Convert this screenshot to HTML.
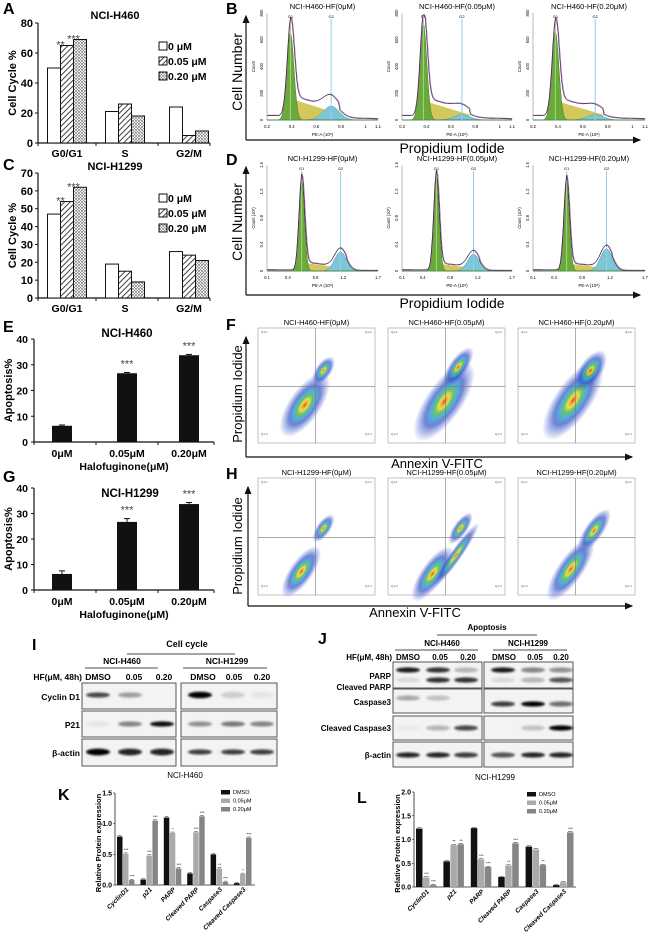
<!DOCTYPE html>
<html><head><meta charset="utf-8">
<style>
html,body{margin:0;padding:0;background:#fff;}
svg{display:block;font-family:"Liberation Sans",Arial,sans-serif;}
.b{font-weight:bold;}
</style></head>
<body>
<svg id="fig" width="648" height="936" viewBox="0 0 648 936" xmlns="http://www.w3.org/2000/svg">
<defs>
<pattern id="hatch" patternUnits="userSpaceOnUse" width="4" height="4" patternTransform="rotate(45)"><rect width="4" height="4" fill="#fff"/><line x1="0" y1="0" x2="0" y2="4" stroke="#111" stroke-width="1.6"/></pattern>
<pattern id="dots" patternUnits="userSpaceOnUse" width="3" height="3"><rect width="3" height="3" fill="#eee"/><circle cx="1" cy="1" r="0.7" fill="#333"/><circle cx="2.5" cy="2.5" r="0.5" fill="#666"/></pattern>
<radialGradient id="heat"><stop offset="0" stop-color="#d82010"/><stop offset="0.09" stop-color="#f0a020"/><stop offset="0.18" stop-color="#e0d830"/><stop offset="0.3" stop-color="#50b850"/><stop offset="0.45" stop-color="#30a0d8"/><stop offset="0.62" stop-color="#3048c0" stop-opacity="0.8"/><stop offset="0.85" stop-color="#4060d0" stop-opacity="0.35"/><stop offset="1" stop-color="#4060d0" stop-opacity="0"/></radialGradient>
<filter id="blur" x="-50%" y="-100%" width="200%" height="300%"><feGaussianBlur stdDeviation="1.1"/></filter>
<marker id="arr" markerWidth="8" markerHeight="8" refX="6" refY="3" orient="auto"><path d="M0,0 L7,3 L0,6 z" fill="#111"/></marker>
</defs>

<text x="3" y="14" class="b" font-size="16">A</text>
<text x="3" y="170" class="b" font-size="16">C</text>
<text x="3" y="332" class="b" font-size="16">E</text>
<text x="3" y="482" class="b" font-size="16">G</text>
<text x="226" y="14" class="b" font-size="16">B</text>
<text x="226" y="165" class="b" font-size="16">D</text>
<text x="226" y="330" class="b" font-size="16">F</text>
<text x="226" y="479" class="b" font-size="16">H</text>
<text x="32" y="650" class="b" font-size="16">I</text>
<text x="318" y="644" class="b" font-size="16">J</text>
<text x="58" y="800" class="b" font-size="16">K</text>
<text x="357" y="803" class="b" font-size="16">L</text>

<line x1="246" y1="140" x2="246" y2="16" stroke="#111" stroke-width="1.2" marker-end="url(#arr)"/>
<line x1="246" y1="140" x2="640" y2="140" stroke="#111" stroke-width="1.2" marker-end="url(#arr)"/>
<text transform="translate(242,72) rotate(-90)" text-anchor="middle" font-size="14">Cell Number</text>
<text x="452" y="153" text-anchor="middle" font-size="14">Propidium Iodide</text>
<line x1="246" y1="295" x2="246" y2="167" stroke="#111" stroke-width="1.2" marker-end="url(#arr)"/>
<line x1="246" y1="295" x2="640" y2="295" stroke="#111" stroke-width="1.2" marker-end="url(#arr)"/>
<text transform="translate(242,222) rotate(-90)" text-anchor="middle" font-size="14">Cell Number</text>
<text x="452" y="308" text-anchor="middle" font-size="14">Propidium Iodide</text>

<line x1="246" y1="457" x2="246" y2="337" stroke="#111" stroke-width="1.2" marker-end="url(#arr)"/>
<line x1="246" y1="457" x2="632" y2="457" stroke="#111" stroke-width="1.2" marker-end="url(#arr)"/>
<text transform="translate(242,394) rotate(-90)" text-anchor="middle" font-size="13">Propidium Iodide</text>
<text x="437" y="468" text-anchor="middle" font-size="13">Annexin V-FITC</text>
<line x1="248" y1="606" x2="248" y2="487" stroke="#111" stroke-width="1.2" marker-end="url(#arr)"/>
<line x1="248" y1="606" x2="632" y2="606" stroke="#111" stroke-width="1.2" marker-end="url(#arr)"/>
<text transform="translate(242,546) rotate(-90)" text-anchor="middle" font-size="13">Propidium Iodide</text>
<text x="415" y="617" text-anchor="middle" font-size="13">Annexin V-FITC</text>

<text x="187" y="647" text-anchor="middle" class="b" font-size="9">Cell cycle</text>
<line x1="127" y1="654" x2="235" y2="654" stroke="#111" stroke-width="0.8"/>
<text x="122" y="664" text-anchor="middle" class="b" font-size="8.5">NCI-H460</text>
<line x1="85" y1="668" x2="158" y2="668" stroke="#111" stroke-width="0.8"/>
<text x="227" y="664" text-anchor="middle" class="b" font-size="8.5">NCI-H1299</text>
<line x1="183" y1="668" x2="267" y2="668" stroke="#111" stroke-width="0.8"/>
<g class="b" font-size="8.5">
<text x="82" y="680" text-anchor="end">HF(μM, 48h)</text>
<text x="98" y="680" text-anchor="middle">DMSO</text><text x="134" y="680" text-anchor="middle">0.05</text><text x="164" y="680" text-anchor="middle">0.20</text>
<text x="203" y="680" text-anchor="middle">DMSO</text><text x="234" y="680" text-anchor="middle">0.05</text><text x="262" y="680" text-anchor="middle">0.20</text>
<text x="80" y="700" text-anchor="end">Cyclin D1</text>
<text x="80" y="728" text-anchor="end">P21</text>
<text x="80" y="756" text-anchor="end">β-actin</text>
</g>
<text x="185" y="778" text-anchor="middle" font-size="8">NCI-H460</text>

<text x="487" y="630" text-anchor="middle" class="b" font-size="8">Apoptosis</text>
<line x1="437" y1="635" x2="537" y2="635" stroke="#111" stroke-width="0.8"/>
<text x="442" y="646" text-anchor="middle" class="b" font-size="8">NCI-H460</text>
<line x1="395" y1="650" x2="478" y2="650" stroke="#111" stroke-width="0.8"/>
<text x="528" y="646" text-anchor="middle" class="b" font-size="8">NCI-H1299</text>
<line x1="493" y1="650" x2="567" y2="650" stroke="#111" stroke-width="0.8"/>
<g class="b" font-size="8">
<text x="392" y="660" text-anchor="end">HF(μM, 48h)</text>
<text x="408" y="660" text-anchor="middle">DMSO</text><text x="440" y="660" text-anchor="middle">0.05</text><text x="468" y="660" text-anchor="middle">0.20</text>
<text x="504" y="660" text-anchor="middle">DMSO</text><text x="535" y="660" text-anchor="middle">0.05</text><text x="561" y="660" text-anchor="middle">0.20</text>
<text x="391" y="679" text-anchor="end">PARP</text>
<text x="391" y="690" text-anchor="end">Cleaved PARP</text>
<text x="391" y="705" text-anchor="end">Caspase3</text>
<text x="391" y="731" text-anchor="end">Cleaved Caspase3</text>
<text x="391" y="758" text-anchor="end">β-actin</text>
</g>
<text x="495" y="780" text-anchor="middle" font-size="8">NCI-H1299</text>

<g id="dyn"></g>
</svg>

<script>
const ccCategories = ["G0/G1", "S", "G2/M"];
const ccLegend = ["0 μM", "0.05 μM", "0.20 μM"];
const h460Cc0 = [50, 21, 24];
const h460Cc005 = [65, 26, 5];
const h460Cc020 = [69, 18, 8];
const h1299Cc0 = [47, 19, 26];
const h1299Cc005 = [54, 15, 24];
const h1299Cc020 = [62, 9, 21];
const aTicks = [0, 20, 40, 60, 80];
const cTicks = [0, 10, 20, 30, 40, 50, 60, 70];

const apoCategories = ["0μM", "0.05μM", "0.20μM"];
const h460Apo = [6.3, 26.7, 33.7];
const h460ApoErr = [0.3, 0.3, 0.3];
const h1299Apo = [6.3, 26.7, 33.7];
const h1299ApoErr = [1.2, 1.3, 0.6];
const apoTicks = [0, 10, 20, 30, 40];

const protCategories = ["CyclinD1", "p21", "PARP", "Cleaved PARP", "Caspase3", "Cleaved Caspase3"];
const protLegend = ["DMSO", "0.05μM", "0.20μM"];
const kDmso = [0.79, 0.09, 1.10, 0.19, 0.50, 0.03];
const k005 = [0.51, 0.48, 0.85, 0.86, 0.27, 0.18];
const k020 = [0.08, 1.05, 0.27, 1.12, 0.05, 0.77];
const kStars005 = ["***", "***", "*", "***", "**", "*"];
const kStars020 = ["***", "***", "***", "***", "***", "***"];
const kTicks = [0.0, 0.5, 1.0, 1.5];
const lDmso = [1.23, 0.54, 1.24, 0.21, 0.85, 0.04];
const l005 = [0.20, 0.88, 0.58, 0.45, 0.79, 0.10];
const l020 = [0.04, 0.90, 0.42, 0.92, 0.46, 1.15];
const lStars005 = ["***", "**", "***", "**", "", ""];
const lStars020 = ["***", "**", "***", "***", "**", "***"];
const lTicks = [0.0, 0.5, 1.0, 1.5, 2.0];

const NS = "http://www.w3.org/2000/svg";
const root = document.getElementById("dyn");
function mk(tag, attrs, parent) {
  const e = document.createElementNS(NS, tag);
  for (const k in attrs) e.setAttribute(k, attrs[k]);
  (parent || root).appendChild(e);
  return e;
}
function txt(x, y, s, size, extra, parent) {
  const t = mk("text", Object.assign({x: x, y: y, "font-size": size}, extra || {}), parent);
  t.textContent = s;
  return t;
}

function cellCycle(cfg) {
  const g = mk("g", {});
  
  
  const y = v => cfg.y0 - v / cfg.max * (cfg.y0 - cfg.yTop);
  const xc = i => cfg.centers[i];
  mk("line", {x1: cfg.x0, y1: cfg.yTop, x2: cfg.x0, y2: cfg.y0, stroke: "#111", "stroke-width": 1.2}, g);
  mk("line", {x1: cfg.x0, y1: cfg.y0, x2: 210, y2: cfg.y0, stroke: "#111", "stroke-width": 1.2}, g);
  cfg.ticks.forEach(t => {
    mk("line", {x1: cfg.x0 - 3, y1: y(t), x2: cfg.x0, y2: y(t), stroke: "#111"}, g);
    const tl = txt(cfg.x0 - 5, y(t) + 4, String(t), 11, {"text-anchor": "end", "font-weight": "bold"}, g);
    
  });
  [cfg.x0, 96, 158, 210].forEach(x => mk("line", {x1: x, y1: cfg.y0, x2: x, y2: cfg.y0 + 3, stroke: "#111"}, g));
  const ylab = txt(0, 0, "Cell Cycle %", 11, {"font-weight": "bold", "text-anchor": "middle", transform: "translate(16," + ((cfg.yTop + cfg.y0) / 2) + ") rotate(-90)"}, g);
  
  const ti = txt(115, cfg.titleY, cfg.title, 11, {"font-weight": "bold", "text-anchor": "middle"}, g);
  
  const fills = ["#fff", "url(#hatch)", "url(#dots)"];
  cfg.series.forEach((s, si) => {
    s.forEach((v, i) => {
      const r = mk("rect", {x: xc(i) - 19.5 + si * 13, y: y(v), width: 13, height: cfg.y0 - y(v), fill: fills[si], stroke: "#111", "stroke-width": 1}, g);
      
    });
  });
  cfg.stars.forEach((s, si) => {
    const v = cfg.series[si + 1][0];
    const st = txt(xc(0) - 6.5 + si * 13, y(v) + 3, s, 11, {"text-anchor": "middle", fill: "#444"}, g);
    
  });
  ccCategories.forEach((c, i) => {
    const l = txt(xc(i), cfg.y0 + 14, c, 10.5, {"text-anchor": "middle", "font-weight": "bold"}, g);
    
  });
  ccLegend.forEach((c, i) => {
    const ly = cfg.legY + i * 15;
    const sw = mk("rect", {x: 159, y: ly - 8, width: 8, height: 8, fill: fills[i], stroke: "#111"}, g);
    
    const lt = txt(168, ly, c, 10.5, {"font-weight": "bold"}, g);
    
  });
}
cellCycle({name: "cell-cycle-h460-chart", x0: 38, yTop: 23, y0: 143, max: 80, ticks: aTicks, centers: [67, 125, 189], title: "NCI-H460", titleY: 19, series: [h460Cc0, h460Cc005, h460Cc020], stars: ["**", "***"], legY: 50});
cellCycle({name: "cell-cycle-h1299-chart", x0: 38, yTop: 173, y0: 298, max: 70, ticks: cTicks, centers: [67, 125, 189], title: "NCI-H1299", titleY: 170, series: [h1299Cc0, h1299Cc005, h1299Cc020], stars: ["**", "***"], legY: 202});

function apoChart(cfg) {
  const g = mk("g", {});
  
  
  const y = v => cfg.y0 - v / 40 * (cfg.y0 - cfg.yTop);
  const centers = [62, 127, 189];
  mk("line", {x1: 34, y1: cfg.yTop, x2: 34, y2: cfg.y0, stroke: "#111", "stroke-width": 1.2}, g);
  mk("line", {x1: 34, y1: cfg.y0, x2: 214, y2: cfg.y0, stroke: "#111", "stroke-width": 1.2}, g);
  [34, 96, 158, 214].forEach(x => mk("line", {x1: x, y1: cfg.y0, x2: x, y2: cfg.y0 + 3, stroke: "#111"}, g));
  apoTicks.forEach(t => {
    mk("line", {x1: 31, y1: y(t), x2: 34, y2: y(t), stroke: "#111"}, g);
    const tl = txt(28, y(t) + 4, String(t), 10.5, {"text-anchor": "end", "font-weight": "bold"}, g);
    
  });
  const yl = txt(0, 0, "Apoptosis%", 11, {"font-weight": "bold", "text-anchor": "middle", transform: "translate(12," + ((cfg.yTop + cfg.y0) / 2) + ") rotate(-90)"}, g);
  
  const ti = txt(cfg.titleX, cfg.titleY, cfg.title, 11.5, {"font-weight": "bold", "text-anchor": "middle"}, g);
  
  cfg.vals.forEach((v, i) => {
    const b = mk("rect", {x: centers[i] - 10, y: y(v), width: 20, height: cfg.y0 - y(v), fill: "#111"}, g);
    
    const e = cfg.err[i];
    mk("line", {x1: centers[i], y1: y(v + e), x2: centers[i], y2: y(v), stroke: "#111"}, g);
    mk("line", {x1: centers[i] - 3, y1: y(v + e), x2: centers[i] + 3, y2: y(v + e), stroke: "#111"}, g);
    if (i > 0) {
      const s = txt(centers[i], y(v + e) - 5, "***", 11, {"text-anchor": "middle", fill: "#444"}, g);
      
    }
    const l = txt(centers[i], cfg.y0 + 15, apoCategories[i], 10.5, {"text-anchor": "middle", "font-weight": "bold"}, g);
    
  });
  const xt = txt(124, cfg.y0 + 28, "Halofuginone(μM)", 10.5, {"text-anchor": "middle", "font-weight": "bold"}, g);
  
}
apoChart({name: "apoptosis-h460-chart", yTop: 339, y0: 442, vals: h460Apo, err: h460ApoErr, title: "NCI-H460", titleX: 127, titleY: 337});
apoChart({name: "apoptosis-h1299-chart", yTop: 488, y0: 590, vals: h1299Apo, err: h1299ApoErr, title: "NCI-H1299", titleX: 130, titleY: 497});

function gauss(x, m, s) { return Math.exp(-0.5 * ((x - m) / s) * ((x - m) / s)); }
function histo(p) {
  const g = mk("g", {});
  
  
  const X = v => p.x0 + (v - p.xmin) / (p.xmax - p.xmin) * (p.x1 - p.x0);
  const H = p.yb - p.yt;
  const Y = f => p.yb - f * H;
  const tt = txt((p.x0 + p.x1) / 2, p.yt - 4, p.title, 7.5, {"text-anchor": "middle"}, g);
  
  mk("line", {x1: p.x0, y1: p.yt, x2: p.x0, y2: p.yb, stroke: "#888", "stroke-width": 0.6}, g);
  mk("line", {x1: p.x0, y1: p.yb, x2: p.x1, y2: p.yb, stroke: "#888", "stroke-width": 0.6}, g);
  const N = 90;
  let g1 = [], sp = [], g2 = [], tot = [];
  for (let i = 0; i <= N; i++) {
    const v = p.xmin + (p.xmax - p.xmin) * i / N;
    const a = p.h1 * gauss(v, p.m1, p.s1);
    const c = p.h2 * gauss(v, p.m2, p.s2);
    let s = 0;
    if (v > p.m1 - p.s1 && v < p.m2 + p.s2) s = p.hs * (1 - (v - p.m1) / (p.m2 - p.m1) * 0.6) * Math.min(1, (v - p.m1 + p.s1) / (2 * p.s1));
    s = Math.max(0, Math.min(s, p.hs));
    g1.push([X(v), Y(a)]); sp.push([X(v), Y(s)]); g2.push([X(v), Y(c)]);
    tot.push([X(v), Y(Math.min(0.98, a + s + c + p.base * gauss(v, p.xmin, (p.xmax - p.xmin) * 0.6)))]);
  }
  const area = pts => "M" + p.x0 + "," + p.yb + " L" + pts.map(q => q[0].toFixed(1) + "," + q[1].toFixed(1)).join(" L") + " L" + p.x1 + "," + p.yb + " Z";
  const line = pts => "M" + pts.map(q => q[0].toFixed(1) + "," + q[1].toFixed(1)).join(" L");
  const a1 = mk("path", {d: area(sp), fill: "#cfc24a", opacity: 0.9}, g); 
  const a2 = mk("path", {d: area(g2), fill: "#7dc6d6", stroke: "#4a8fc0", "stroke-width": 0.5}, g); 
  const a3 = mk("path", {d: area(g1), fill: "#6aaa3a", stroke: "#3d7a22", "stroke-width": 0.5}, g); 
  mk("line", {x1: X(p.m1), y1: p.yt + 6, x2: X(p.m1), y2: p.yb, stroke: "#9fd880", "stroke-width": 1}, g);
  mk("line", {x1: X(p.m2), y1: p.yt + 6, x2: X(p.m2), y2: p.yb, stroke: "#8fd0e8", "stroke-width": 1}, g);
  txt(X(p.m1), p.yt + 5, "G1", 4, {"text-anchor": "middle"}, g);
  txt(X(p.m2), p.yt + 5, "G2", 4, {"text-anchor": "middle"}, g);
  mk("path", {d: line(tot), fill: "none", stroke: "#b040c0", "stroke-width": 0.5, transform: "translate(0.6,-0.6)"}, g);
  const o = mk("path", {d: line(tot), fill: "none", stroke: "#222", "stroke-width": 0.6}, g);
  
  p.xt.forEach(v => txt(X(v), p.yb + 8, String(v), 4.2, {"text-anchor": "middle"}, g));
  txt((p.x0 + p.x1) / 2, p.yb + 16, "PE-A (10⁶)", 4.5, {"text-anchor": "middle"}, g);
  txt(0, 0, p.ylab, 4.2, {"text-anchor": "middle", transform: "translate(" + (p.x0 - 12) + "," + ((p.yt + p.yb) / 2) + ") rotate(-90)"}, g);
  p.yticks.forEach((t, i) => txt(0, 0, t, 4.2, {"text-anchor": "middle", transform: "translate(" + (p.x0 - 4) + "," + (p.yb - i / (p.yticks.length - 1) * H) + ") rotate(-90)"}, g));
}
const bx = [[267, 378], [402, 512], [533, 645]];
const bTitles = ["NCI-H460-HF(0μM)", "NCI-H460-HF(0.05μM)", "NCI-H460-HF(0.20μM)"];
const dTitles = ["NCI-H1299-HF(0μM)", "NCI-H1299-HF(0.05μM)", "NCI-H1299-HF(0.20μM)"];
const bShape = [[0.39, 0.82, 0.72, 0.13, 0.2], [0.375, 0.9, 0.69, 0.05, 0.18], [0.38, 0.83, 0.70, 0.05, 0.18]];
const dShape = [[0.6, 0.87, 1.16, 0.18, 0.08], [0.6, 0.91, 1.14, 0.16, 0.07], [0.58, 0.86, 1.15, 0.21, 0.07]];
for (let i = 0; i < 3; i++) {
  histo({name: "cell-cycle-histogram-h460-" + i, x0: bx[i][0], x1: bx[i][1], yt: 13, yb: 120, xmin: 0.2, xmax: 1.1, m1: bShape[i][0], s1: 0.028, h1: bShape[i][1], m2: bShape[i][2], s2: 0.065, h2: bShape[i][3], hs: bShape[i][4], base: 0.04, title: bTitles[i], xt: [0.2, 0.4, 0.6, 0.8, 1, 1.1], ylab: "Count", yticks: ["0", "200", "400", "600", "800"]});
  histo({name: "cell-cycle-histogram-h1299-" + i, x0: bx[i][0], x1: bx[i][1], yt: 165, yb: 271, xmin: 0.1, xmax: 1.7, m1: dShape[i][0], s1: 0.04, h1: dShape[i][1], m2: dShape[i][2], s2: 0.085, h2: dShape[i][3], hs: dShape[i][4], base: 0.01, title: dTitles[i], xt: [0.1, 0.4, 0.8, 1.2, 1.7], ylab: "Count (10³)", yticks: ["0", "0.4", "0.8", "1.2", "1.6"]});
}

function scatter(p) {
  const g = mk("g", {});
  
  
  const w = p.x1 - p.x0, h = p.yb - p.yt;
  const tt = txt((p.x0 + p.x1) / 2, p.yt - 3, p.title, 7.5, {"text-anchor": "middle"}, g);
  
  mk("rect", {x: p.x0, y: p.yt, width: w, height: h, fill: "#fff", stroke: "#999", "stroke-width": 0.6}, g);
  p.blobs.forEach(b => {
    const e = mk("ellipse", {cx: 0, cy: 0, rx: b[2] * w, ry: b[3] * h, fill: "url(#heat)", opacity: 0.85, transform: "translate(" + (p.x0 + b[0] * w) + "," + (p.yt + b[1] * h) + ") rotate(-55)"}, g);
    
  });
  mk("line", {x1: p.x0 + 0.49 * w, y1: p.yt, x2: p.x0 + 0.49 * w, y2: p.yb, stroke: "#777", "stroke-width": 0.6}, g);
  mk("line", {x1: p.x0, y1: p.yt + 0.51 * h, x2: p.x1, y2: p.yt + 0.51 * h, stroke: "#777", "stroke-width": 0.6}, g);
  ["Q1-1", "Q1-2", "Q1-3", "Q1-4"].forEach((q, i) => {
    const qx = p.x0 + (i % 2 ? w - 10 : 3), qy = p.yt + (i < 2 ? 5 : h - 8);
    txt(qx, qy, q, 3, {fill: "#555"}, g);
  });
}
const fx = [[258, 375], [388, 505], [518, 635]];
const fTitles = ["NCI-H460-HF(0μM)", "NCI-H460-HF(0.05μM)", "NCI-H460-HF(0.20μM)"];
const hTitles = ["NCI-H1299-HF(0μM)", "NCI-H1299-HF(0.05μM)", "NCI-H1299-HF(0.20μM)"];
const fBlobs = [
  [[0.40, 0.67, 0.32, 0.14], [0.56, 0.37, 0.14, 0.07]],
  [[0.48, 0.64, 0.40, 0.16], [0.60, 0.34, 0.2, 0.08]],
  [[0.47, 0.63, 0.40, 0.16], [0.62, 0.37, 0.2, 0.1]]
];
const hBlobs = [
  [[0.37, 0.80, 0.26, 0.1], [0.56, 0.43, 0.14, 0.06]],
  [[0.38, 0.82, 0.28, 0.1], [0.58, 0.66, 0.34, 0.05], [0.62, 0.43, 0.16, 0.06]],
  [[0.45, 0.78, 0.32, 0.11], [0.65, 0.45, 0.22, 0.08]]
];
for (let i = 0; i < 3; i++) {
  scatter({name: "annexin-scatter-h460-" + i, x0: fx[i][0], x1: fx[i][1], yt: 328, yb: 443, title: fTitles[i], blobs: fBlobs[i]});
  scatter({name: "annexin-scatter-h1299-" + i, x0: fx[i][0], x1: fx[i][1], yt: 478, yb: 595, title: hTitles[i], blobs: hBlobs[i]});
}

function blotBox(name, x0, x1, y0, y1, lanes, rows) {
  const g = mk("g", {});
  
  
  mk("rect", {x: x0, y: y0, width: x1 - x0, height: y1 - y0, fill: "#f3f3f3", stroke: "#555", "stroke-width": 1}, g);
  rows.forEach(r => r.vals.forEach((v, i) => {
    if (v <= 0) return;
    const b = mk("ellipse", {cx: lanes[i], cy: r.y, rx: 12, ry: r.ry || 2.6, fill: "#000", opacity: v, filter: "url(#blur)"}, g);
    
  }));
}
const iL = [98, 130, 162], iR = [200, 233, 262];
blotBox("blot-cyclind1-h460", 82, 176, 683, 709, iL, [{y: 695, vals: [0.7, 0.35, 0]}]);
blotBox("blot-cyclind1-h1299", 181, 277, 683, 709, iR, [{y: 695, vals: [1, 0.15, 0.05], ry: 3.2}]);
blotBox("blot-p21-h460", 82, 176, 711, 737, iL, [{y: 724, vals: [0.05, 0.45, 0.95]}]);
blotBox("blot-p21-h1299", 181, 277, 711, 737, iR, [{y: 724, vals: [0.4, 0.5, 0.45]}]);
blotBox("blot-actin-h460-i", 82, 176, 739, 766, iL, [{y: 752, vals: [1, 0.85, 0.85], ry: 3.4}]);
blotBox("blot-actin-h1299-i", 181, 277, 739, 766, iR, [{y: 752, vals: [0.75, 0.75, 0.75]}]);
const jL = [408, 438, 466], jR = [503, 533, 561];
blotBox("blot-parp-h460", 393, 482, 662, 688, jL, [{y: 670, vals: [0.9, 0.8, 0.25]}, {y: 680, vals: [0.1, 0.8, 0.8]}]);
blotBox("blot-parp-h1299", 484, 573, 662, 688, jR, [{y: 670, vals: [0.9, 0.45, 0.4]}, {y: 680, vals: [0.1, 0.25, 0.65]}]);
blotBox("blot-caspase3-h460", 393, 482, 689, 713, jL, [{y: 698, vals: [0.3, 0.2, 0]}]);
blotBox("blot-caspase3-h1299", 484, 573, 689, 713, jR, [{y: 704, vals: [0.75, 1, 0.55]}]);
blotBox("blot-cleaved-caspase3-h460", 393, 482, 716, 740, jL, [{y: 728, vals: [0.03, 0.25, 0.7]}]);
blotBox("blot-cleaved-caspase3-h1299", 484, 573, 716, 740, jR, [{y: 728, vals: [0, 0.2, 1]}]);
blotBox("blot-actin-h460-j", 393, 482, 742, 767, jL, [{y: 755, vals: [0.85, 0.85, 0.75]}]);
blotBox("blot-actin-h1299-j", 484, 573, 742, 767, jR, [{y: 755, vals: [0.65, 0.85, 0.85]}]);

function protChart(cfg) {
  const g = mk("g", {});
  
  
  const y = v => cfg.y0 - v / cfg.max * (cfg.y0 - cfg.yTop);
  const gs = i => cfg.first + i * cfg.pitch;
  mk("line", {x1: cfg.x0, y1: cfg.yTop, x2: cfg.x0, y2: cfg.y0, stroke: "#222", "stroke-width": 0.8}, g);
  mk("line", {x1: cfg.x0, y1: cfg.y0, x2: cfg.xEnd, y2: cfg.y0, stroke: "#222", "stroke-width": 0.8}, g);
  cfg.ticks.forEach(t => {
    mk("line", {x1: cfg.x0 - 2, y1: y(t), x2: cfg.x0, y2: y(t), stroke: "#222", "stroke-width": 0.6}, g);
    const tl = txt(cfg.x0 - 3, y(t) + 2.5, t.toFixed(1), 7, {"text-anchor": "end", "font-weight": "bold"}, g);
    
  });
  const yl = txt(0, 0, "Relative Protein expression", 7.5, {"font-weight": "bold", "text-anchor": "middle", transform: "translate(" + (cfg.x0 - 14) + "," + ((cfg.yTop + cfg.y0) / 2 + 4) + ") rotate(-90)"}, g);
  
  const colors = ["#111", "#aaa", "#858585"];
  cfg.series.forEach((s, si) => s.forEach((v, i) => {
    const x = gs(i) + si * cfg.bw;
    const b = mk("rect", {x: x, y: y(v), width: cfg.bw - 0.5, height: cfg.y0 - y(v), fill: colors[si]}, g);
    
    mk("line", {x1: x + 1, y1: y(v) - 0.8, x2: x + cfg.bw - 1.5, y2: y(v) - 0.8, stroke: "#222", "stroke-width": 0.5}, g);
    const star = si === 1 ? cfg.s005[i] : si === 2 ? cfg.s020[i] : "";
    if (star) {
      const st = txt(x + cfg.bw / 2, y(v) - 2.5, star, 4, {"text-anchor": "middle"}, g);
      
    }
  }));
  protCategories.forEach((c, i) => {
    const cx = gs(i) + cfg.bw * 1.5 + 3;
    const l = txt(0, 0, c, 6.5, {"text-anchor": "end", "font-style": "italic", "font-weight": "bold", transform: "translate(" + cx + "," + (cfg.y0 + 5) + ") rotate(-45)"}, g);
    
  });
  protLegend.forEach((c, i) => {
    const sw = mk("rect", {x: cfg.legX, y: cfg.legY + i * 8.5 - 4, width: 9, height: 4.5, fill: colors[i]}, g);
    
    const lt = txt(cfg.legX + 12, cfg.legY + i * 8.5, c, 5.5, {}, g);
    
  });
}
protChart({name: "protein-expression-h460-chart", x0: 115, xEnd: 255, yTop: 793, y0: 885, max: 1.5, ticks: kTicks, first: 117, pitch: 23.4, bw: 6, series: [kDmso, k005, k020], s005: kStars005, s020: kStars020, legX: 221, legY: 794});
protChart({name: "protein-expression-h1299-chart", x0: 414, xEnd: 576, yTop: 792, y0: 887, max: 2.0, ticks: lTicks, first: 416, pitch: 27.4, bw: 7, series: [lDmso, l005, l020], s005: lStars005, s020: lStars020, legX: 527, legY: 796});
</script>
</body></html>
